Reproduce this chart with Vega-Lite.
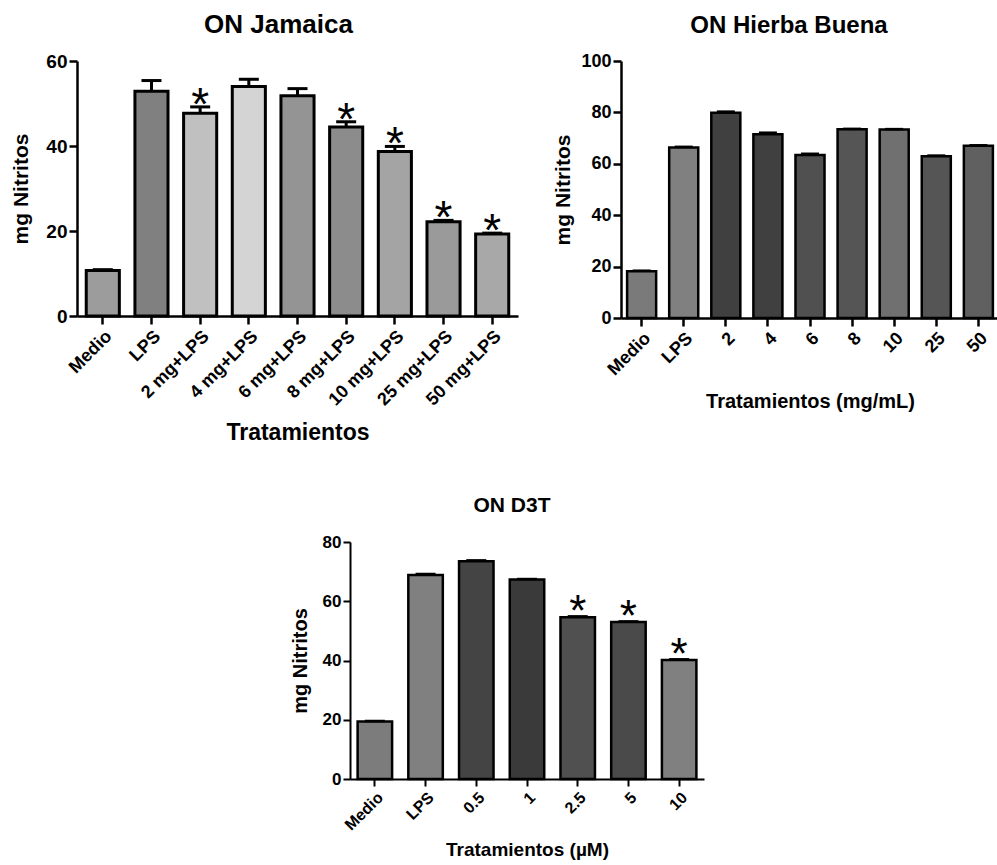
{
  "$schema": "https://vega.github.io/schema/vega-lite/v6.json",
  "background": "white",
  "padding": {"left": 10, "top": 12, "right": 0, "bottom": 0},
  "config": {
    "view": {"stroke": null},
    "font": "Liberation Sans",
    "axis": {"domainColor": "black", "domainWidth": 2.5, "tickColor": "black", "tickWidth": 2.5, "tickSize": 8, "labelColor": "black", "labelFontWeight": "bold", "titleColor": "black", "titleFontWeight": "bold", "grid": false, "labelFont": "Liberation Sans", "titleFont": "Liberation Sans"},
    "title": {"font": "Liberation Sans", "fontWeight": "bold", "color": "black", "anchor": "middle", "frame": "group"}
  },
  "datasets": {
    "jam": [
      {"g": "Medio", "v": 10.7, "hi": 10.9, "star": false},
      {"g": "LPS", "v": 52.9, "hi": 55.4, "star": false},
      {"g": "2 mg+LPS", "v": 47.7, "hi": 49.2, "star": true},
      {"g": "4 mg+LPS", "v": 54.0, "hi": 55.7, "star": false},
      {"g": "6 mg+LPS", "v": 51.8, "hi": 53.5, "star": false},
      {"g": "8 mg+LPS", "v": 44.5, "hi": 45.7, "star": true},
      {"g": "10 mg+LPS", "v": 38.7, "hi": 39.9, "star": true},
      {"g": "25 mg+LPS", "v": 22.2, "hi": 22.5, "star": true},
      {"g": "50 mg+LPS", "v": 19.3, "hi": 19.5, "star": true}
    ],
    "hb": [
      {"g": "Medio", "v": 18.2, "hi": 18.4},
      {"g": "LPS", "v": 66.3, "hi": 66.6},
      {"g": "2", "v": 79.9, "hi": 80.3},
      {"g": "4", "v": 71.5, "hi": 72.1},
      {"g": "6", "v": 63.4, "hi": 63.9},
      {"g": "8", "v": 73.4, "hi": 73.6},
      {"g": "10", "v": 73.3, "hi": 73.5},
      {"g": "25", "v": 62.9, "hi": 63.2},
      {"g": "50", "v": 67.0, "hi": 67.2}
    ],
    "d3t": [
      {"g": "Medio", "v": 19.4, "hi": 19.6, "star": false},
      {"g": "LPS", "v": 68.9, "hi": 69.2, "star": false},
      {"g": "0.5", "v": 73.5, "hi": 73.8, "star": false},
      {"g": "1", "v": 67.3, "hi": 67.5, "star": false},
      {"g": "2.5", "v": 54.6, "hi": 54.9, "star": true},
      {"g": "5", "v": 53.0, "hi": 53.2, "star": true},
      {"g": "10", "v": 40.2, "hi": 40.4, "star": true}
    ]
  },
  "resolve": {"scale": {"fill": "independent"}},
  "spacing": 50,
  "vconcat": [
    {
      "hconcat": [
        {
          "width": 441, "height": 255,
          "title": {"text": "ON Jamaica", "fontSize": 26, "offset": 14, "dx": -19},
          "data": {"name": "jam"},
          "encoding": {
            "x": {"field": "g", "type": "nominal", "sort": null,
              "scale": {"paddingInner": 0.32, "paddingOuter": 0.19},
              "axis": {"title": "Tratamientos", "titleFontSize": 23, "labelFontSize": 18, "labelAngle": -45, "labelPadding": 3, "titlePadding": 13}}
          },
          "layer": [
            {"mark": {"type": "bar", "stroke": "black", "strokeWidth": 3},
             "encoding": {
               "y": {"field": "v", "type": "quantitative", "scale": {"domain": [0, 60], "nice": false},
                 "axis": {"title": "mg Nitritos", "values": [0, 20, 40, 60], "titleFontSize": 21, "labelFontSize": 19, "labelPadding": 2, "titlePadding": 14}},
               "fill": {"field": "g", "type": "nominal", "sort": null, "legend": null,
                 "scale": {"domain": ["Medio", "LPS", "2 mg+LPS", "4 mg+LPS", "6 mg+LPS", "8 mg+LPS", "10 mg+LPS", "25 mg+LPS", "50 mg+LPS"],
                   "range": ["#9c9c9c", "#808080", "#c0c0c0", "#d4d4d4", "#949494", "#8c8c8c", "#a4a4a4", "#9a9a9a", "#a8a8a8"]}}
             }},
            {"mark": {"type": "rule", "strokeWidth": 3, "color": "black"},
             "encoding": {"y": {"field": "v", "type": "quantitative"}, "y2": {"field": "hi"}}},
            {"mark": {"type": "tick", "thickness": 3, "size": 20, "color": "black", "opacity": 1},
             "encoding": {"y": {"field": "hi", "type": "quantitative"}}},
            {"transform": [{"filter": "datum.star"}],
             "mark": {"type": "text", "text": "*", "fontSize": 46, "color": "black", "baseline": "alphabetic", "dy": 13},
             "encoding": {"y": {"field": "hi", "type": "quantitative"}}}
          ]
        },
        {
          "width": 378, "height": 257,
          "title": {"text": "ON Hierba Buena", "fontSize": 24, "offset": 14, "dx": -21},
          "data": {"name": "hb"},
          "encoding": {
            "x": {"field": "g", "type": "nominal", "sort": null,
              "scale": {"paddingInner": 0.31, "paddingOuter": 0.145},
              "axis": {"title": "Tratamientos (mg/mL)", "titleFontSize": 20, "labelFontSize": 18, "labelAngle": -45, "labelPadding": 3, "titlePadding": 13}}
          },
          "layer": [
            {"mark": {"type": "bar", "stroke": "black", "strokeWidth": 2.5},
             "encoding": {
               "y": {"field": "v", "type": "quantitative", "scale": {"domain": [0, 100], "nice": false},
                 "axis": {"title": "mg Nitritos", "values": [0, 20, 40, 60, 80, 100], "titleFontSize": 21, "labelFontSize": 18, "labelPadding": 2, "titlePadding": 7}},
               "fill": {"field": "g", "type": "nominal", "sort": null, "legend": null,
                 "scale": {"domain": ["Medio", "LPS", "2", "4", "6", "8", "10", "25", "50"],
                   "range": ["#7a7a7a", "#808080", "#404040", "#404040", "#505050", "#555555", "#707070", "#555555", "#606060"]}}
             }},
            {"mark": {"type": "rule", "strokeWidth": 2.5, "color": "black"},
             "encoding": {"y": {"field": "v", "type": "quantitative"}, "y2": {"field": "hi"}}},
            {"mark": {"type": "tick", "thickness": 2.5, "size": 18, "color": "black", "opacity": 1},
             "encoding": {"y": {"field": "hi", "type": "quantitative"}}}
          ]
        }
      ],
      "spacing": 34,
      "resolve": {"scale": {"fill": "independent"}}
    },
    {
      "hconcat": [
        {"width": 213, "height": 10, "data": {"values": []}, "mark": {"type": "point", "opacity": 0}},
        {
          "width": 354, "height": 237,
          "title": {"text": "ON D3T", "fontSize": 21, "offset": 17, "dx": -15},
          "data": {"name": "d3t"},
          "encoding": {
            "x": {"field": "g", "type": "nominal", "sort": null,
              "scale": {"paddingInner": 0.32, "paddingOuter": 0.15},
              "axis": {"title": "Tratamientos (µM)", "titleFontSize": 19, "labelFontSize": 16, "labelAngle": -45, "labelPadding": 3, "titlePadding": 8, "domainWidth": 2, "tickWidth": 2, "tickSize": 7}}
          },
          "layer": [
            {"mark": {"type": "bar", "stroke": "black", "strokeWidth": 2.5},
             "encoding": {
               "y": {"field": "v", "type": "quantitative", "scale": {"domain": [0, 80], "nice": false},
                 "axis": {"title": "mg Nitritos", "values": [0, 20, 40, 60, 80], "titleFontSize": 20, "labelFontSize": 17, "labelPadding": 2, "titlePadding": 12, "domainWidth": 2, "tickWidth": 2, "tickSize": 7}},
               "fill": {"field": "g", "type": "nominal", "sort": null, "legend": null,
                 "scale": {"domain": ["Medio", "LPS", "0.5", "1", "2.5", "5", "10"],
                   "range": ["#7c7c7c", "#808080", "#444444", "#3a3a3a", "#505050", "#4a4a4a", "#808080"]}}
             }},
            {"mark": {"type": "rule", "strokeWidth": 2.5, "color": "black"},
             "encoding": {"y": {"field": "v", "type": "quantitative"}, "y2": {"field": "hi"}}},
            {"mark": {"type": "tick", "thickness": 2.5, "size": 20, "color": "black", "opacity": 1},
             "encoding": {"y": {"field": "hi", "type": "quantitative"}}},
            {"transform": [{"filter": "datum.star"}],
             "mark": {"type": "text", "text": "*", "fontSize": 44, "color": "black", "baseline": "alphabetic", "dy": 10},
             "encoding": {"y": {"field": "hi", "type": "quantitative"}}}
          ]
        }
      ],
      "spacing": 0,
      "resolve": {"scale": {"fill": "independent"}}
    }
  ]
}
